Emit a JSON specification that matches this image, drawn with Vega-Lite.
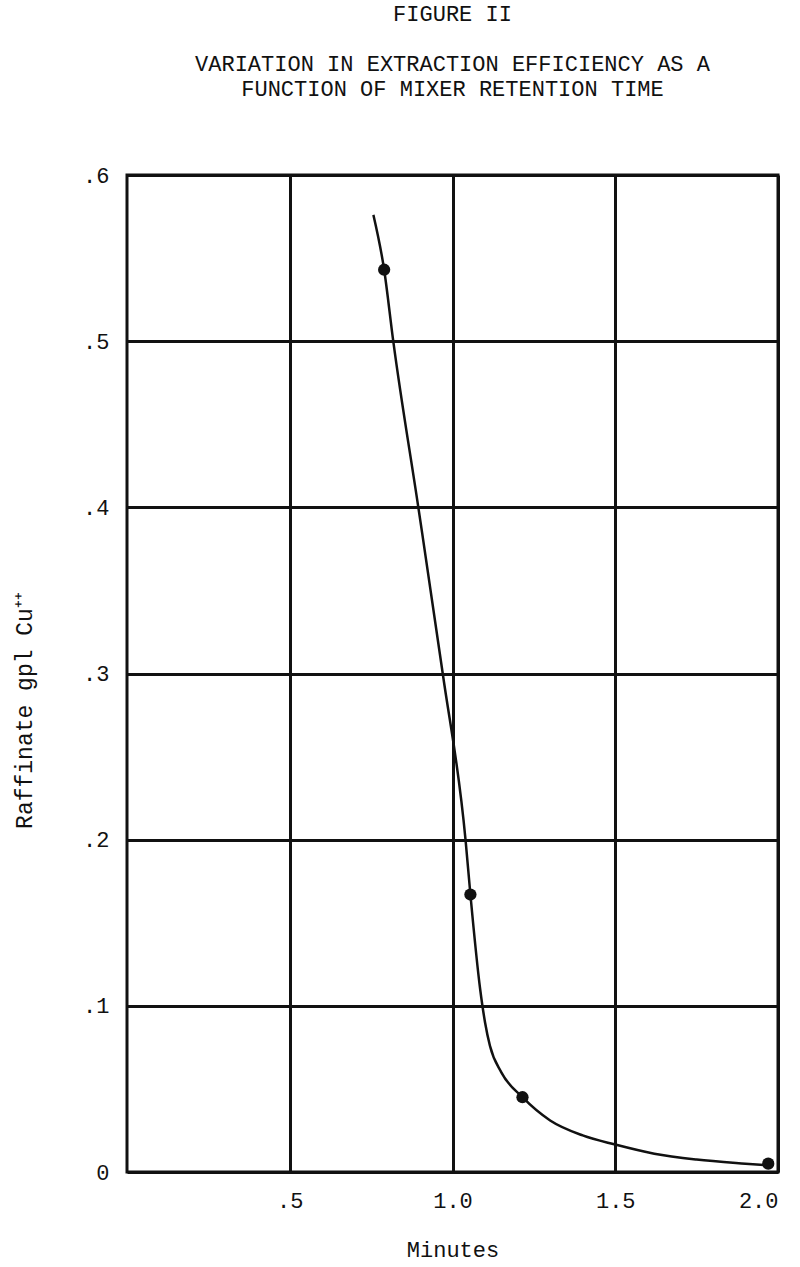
{
  "$schema": "https://vega.github.io/schema/vega-lite/v6.json",
  "width": 651,
  "height": 997,
  "autosize": {"type": "none"},
  "padding": {"left": 127, "top": 175, "right": 22, "bottom": 95},
  "background": "white",
  "config": {
    "view": {"stroke": "#111", "strokeWidth": 3},
    "font": "Liberation Mono"
  },
  "title": {
    "text": "FIGURE II",
    "subtitle": ["VARIATION IN EXTRACTION EFFICIENCY AS A", "FUNCTION OF MIXER RETENTION TIME"],
    "anchor": "middle",
    "font": "Liberation Mono",
    "fontSize": 22,
    "fontWeight": "normal",
    "color": "#111",
    "subtitleFont": "Liberation Mono",
    "subtitleFontSize": 22,
    "subtitleColor": "#111",
    "subtitlePadding": 28,
    "subtitleLineHeight": 25,
    "offset": 63
  },
  "datasets": {
    "curve": [
      {"minutes": 0.757, "raffinate": 0.576},
      {"minutes": 0.79, "raffinate": 0.543},
      {"minutes": 0.818, "raffinate": 0.5},
      {"minutes": 0.895, "raffinate": 0.4},
      {"minutes": 0.97, "raffinate": 0.3},
      {"minutes": 1.04, "raffinate": 0.2},
      {"minutes": 1.055, "raffinate": 0.167},
      {"minutes": 1.085, "raffinate": 0.11},
      {"minutes": 1.1, "raffinate": 0.09},
      {"minutes": 1.115, "raffinate": 0.076},
      {"minutes": 1.15, "raffinate": 0.06},
      {"minutes": 1.215, "raffinate": 0.045},
      {"minutes": 1.3, "raffinate": 0.031},
      {"minutes": 1.4, "raffinate": 0.022},
      {"minutes": 1.5, "raffinate": 0.0165},
      {"minutes": 1.62, "raffinate": 0.011},
      {"minutes": 1.75, "raffinate": 0.0075},
      {"minutes": 1.9, "raffinate": 0.005},
      {"minutes": 1.97, "raffinate": 0.004}
    ],
    "points": [
      {"minutes": 0.79, "raffinate": 0.543},
      {"minutes": 1.055, "raffinate": 0.167},
      {"minutes": 1.215, "raffinate": 0.045},
      {"minutes": 1.97, "raffinate": 0.005}
    ]
  },
  "encoding": {
    "x": {
      "field": "minutes",
      "type": "quantitative",
      "scale": {"domain": [0, 2], "nice": false, "zero": false},
      "axis": {
        "title": "Minutes",
        "values": [0.5, 1, 1.5, 2],
        "labelExpr": "replace(format(datum.value, '.1f'), '0.', '.')",
        "domain": false,
        "ticks": false,
        "grid": true,
        "gridColor": "#111",
        "gridWidth": 3,
        "gridOpacity": 1,
        "labelFont": "Liberation Mono",
        "labelFontSize": 22,
        "labelColor": "#111",
        "labelPadding": 18,
        "titleFont": "Liberation Mono",
        "titleFontSize": 22,
        "titleFontWeight": "normal",
        "titleColor": "#111",
        "titlePadding": 28
      }
    },
    "y": {
      "field": "raffinate",
      "type": "quantitative",
      "scale": {"domain": [0, 0.6], "nice": false},
      "axis": {
        "title": "Raffinate gpl Cu⁺⁺",
        "values": [0, 0.1, 0.2, 0.3, 0.4, 0.5, 0.6],
        "labelExpr": "datum.value == 0 ? '0' : replace(format(datum.value, '.1f'), '0.', '.')",
        "domain": false,
        "ticks": false,
        "grid": true,
        "gridColor": "#111",
        "gridWidth": 3,
        "gridOpacity": 1,
        "labelFont": "Liberation Mono",
        "labelFontSize": 22,
        "labelColor": "#111",
        "labelPadding": 18,
        "titleFont": "Liberation Mono",
        "titleFontSize": 23,
        "titleFontWeight": "normal",
        "titleColor": "#111",
        "titleX": -103,
        "titleY": 535,
        "titleBaseline": "middle"
      }
    }
  },
  "layer": [
    {
      "data": {"name": "curve"},
      "mark": {"type": "line", "color": "#111", "strokeWidth": 2.5, "interpolate": "monotone"}
    },
    {
      "data": {"name": "points"},
      "mark": {"type": "circle", "color": "#111", "opacity": 1, "size": 150}
    }
  ]
}
